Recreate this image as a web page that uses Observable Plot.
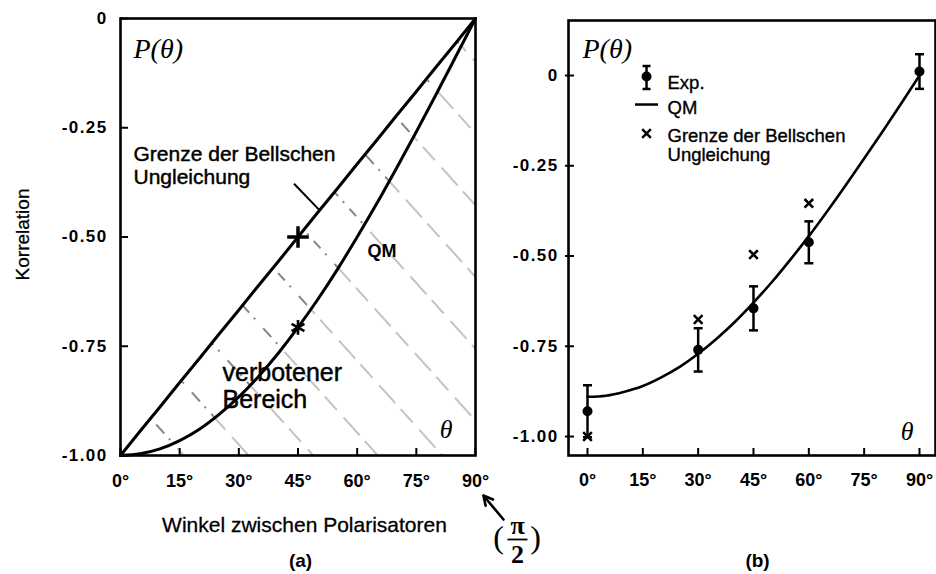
<!DOCTYPE html>
<html><head><meta charset="utf-8">
<script src="https://cdn.jsdelivr.net/npm/d3@7"></script>
<script src="https://cdn.jsdelivr.net/npm/@observablehq/plot@0.6"></script>
<style>
body{margin:0;background:#fff;}
#wrap{position:relative;width:936px;height:574px;overflow:hidden;background:#fff;}
.panel{position:absolute;top:0;}
[aria-label="y-axis tick label"] text{letter-spacing:1.4px;}
</style></head><body>
<svg width="0" height="0" style="position:absolute">
<defs>
<pattern id="hatchDark" patternUnits="userSpaceOnUse" width="48" height="60" patternTransform="rotate(-42)">
<line x1="24" y1="0" x2="24" y2="60" stroke="#444" stroke-width="1.3" stroke-dasharray="12 7 2 8 10 7 2 12"/>
</pattern>
<pattern id="hatchLight" patternUnits="userSpaceOnUse" width="48" height="60" patternTransform="rotate(-42)">
<line x1="24" y1="0" x2="24" y2="60" stroke="#aaa" stroke-width="1.4" stroke-dasharray="24 8 18 10"/>
</pattern>
</defs>
</svg>
<div id="wrap">
<div id="left" class="panel" style="left:0;width:560px"></div>
<div id="right" class="panel" style="left:480px;width:456px"></div>
</div>
<script>
// ---------- data ----------
const angles = [0,5,10,15,20,25,30,35,40,45,50,55,60,65,70,75,80,85,90];
const bellLimit = [-1,-0.944,-0.889,-0.833,-0.778,-0.722,-0.667,-0.611,-0.556,-0.5,-0.444,-0.389,-0.333,-0.278,-0.222,-0.167,-0.111,-0.056,0];
const qmIdeal = [-1,-0.996,-0.985,-0.966,-0.94,-0.906,-0.866,-0.819,-0.766,-0.707,-0.643,-0.574,-0.5,-0.423,-0.342,-0.259,-0.174,-0.087,0];
const qmMeasured = [-0.89,-0.887,-0.876,-0.86,-0.836,-0.807,-0.771,-0.729,-0.682,-0.629,-0.572,-0.51,-0.445,-0.376,-0.304,-0.23,-0.155,-0.078,0];
const markAngle = 45;
const markBell = -0.5;
const markQM = -0.707;
const expAngles = [0,30,45,60,90];
const expValues = [-0.93,-0.76,-0.645,-0.462,0.011];
const expErrors = [0.072,0.06,0.061,0.058,0.048];
const bellAngles = [0,30,45,60];
const bellValues = [-1.0,-0.676,-0.496,-0.354];
const xTicks = [0,15,30,45,60,75,90];
const xTickLabels = ["0°","15°","30°","45°","60°","75°","90°"];
const yTicks = [0,-0.25,-0.5,-0.75,-1];
const yTickLabels = ["0","-0.25","-0.50","-0.75","-1.00"];
const legendLabels = ["Exp.","QM","Grenze der Bellschen","Ungleichung"];

// ---------- helpers ----------
const SANS = "'Liberation Sans', Arial, Helvetica, sans-serif";
const SERIF = "'Liberation Serif', 'Times New Roman', serif";
const H = 574;
const curveRows = angles.map((a,i)=>({a, bell: bellLimit[i], qm: qmIdeal[i], qmm: qmMeasured[i]}));
const expRows = expAngles.map((a,i)=>({a, v: expValues[i], lo: expValues[i]-expErrors[i], hi: expValues[i]+expErrors[i]}));
const bellRows = bellAngles.map((a,i)=>({a, v: bellValues[i]}));
const heavy = {stroke:"black", strokeWidth:0.45};
const txt = (s, dx, dy, o={}) => Plot.text([s], {frameAnchor:"top-left", text:d=>d, dx, dy,
  textAnchor:"start", lineAnchor:"bottom", fontFamily:SANS, fill:"black", ...o});
const capSym = {draw(c){c.moveTo(-4.5,0);c.lineTo(4.5,0);}};
const legLine = {draw(c){c.moveTo(-11.5,0);c.lineTo(11.5,0);}};
const legErr = {draw(c){c.moveTo(0,-11);c.lineTo(0,12);c.moveTo(-4,-11);c.lineTo(4,-11);c.moveTo(-4,12);c.lineTo(4,12);}};
const fracBar = {draw(c){c.moveTo(-10,0);c.lineTo(10,0);}};
const fmtY = d => yTickLabels[yTicks.indexOf(d)];
const fmtX = d => xTickLabels[xTicks.indexOf(d)];
const styleStr = `background:transparent;font-family:${SANS};overflow:visible;max-width:none;`;

// ---------- left panel ----------
const L = {w:560, ml:120, mr:85, mt:18, mb:119};
const lpw = L.w-L.ml-L.mr, lph = H-L.mt-L.mb;
const piAnchor = [{a:90, v:-1}];
const left = Plot.plot({
  width:L.w, height:H, marginLeft:L.ml, marginRight:L.mr, marginTop:L.mt, marginBottom:L.mb,
  style: styleStr,
  x:{domain:[0,90], label:null}, y:{domain:[-1,0], label:null},
  marks:[
    Plot.areaY(curveRows, {x:"a", y1:-1, y2:"qm", fill:"url(#hatchLight)", curve:"natural"}),
    Plot.areaY(curveRows, {x:"a", y1:"qm", y2:"bell", fill:"url(#hatchDark)", curve:"natural"}),
    Plot.line(curveRows, {x:"a", y:"bell", stroke:"black", strokeWidth:3}),
    Plot.line(curveRows, {x:"a", y:"qm", stroke:"black", strokeWidth:3, curve:"natural"}),
    Plot.dot([{a:markAngle, v:markBell}], {x:"a", y:"v", symbol:"plus", r:7, stroke:"black", strokeWidth:3.5}),
    Plot.dot([{a:markAngle, v:markQM}], {x:"a", y:"v", symbol:"asterisk", r:7, stroke:"black", strokeWidth:2.6}),
    Plot.link([{x1:44, y1:-0.378, x2:50.5, y2:-0.439}], {x1:"x1", y1:"y1", x2:"x2", y2:"y2", stroke:"black", strokeWidth:2}),
    txt("P(θ)", 13, 39, {fontFamily:SERIF, fontStyle:"italic", fontSize:28}),
    txt("Grenze der Bellschen", 13, 142, {fontSize:21, ...heavy}),
    txt("Ungleichung", 13, 165, {fontSize:21, ...heavy}),
    txt("QM", 247, 238, {fontSize:18, fontWeight:"bold"}),
    txt("verbotener", 102, 362, {fontSize:25, ...heavy}),
    txt("Bereich", 102, 389, {fontSize:25, ...heavy}),
    txt("θ", 332, 419, {fontFamily:SERIF, fontStyle:"italic", fontSize:26, textAnchor:"end"}),
    txt("Korrelation", -98, 216, {fontSize:19, rotate:-90, textAnchor:"middle", lineAnchor:"middle", stroke:"black", strokeWidth:0.3}),
    txt("Winkel zwischen Polarisatoren", 184, 513, {fontSize:21, textAnchor:"middle", stroke:"black", strokeWidth:0.3}),
    txt("(a)", 180, 548, {fontSize:19, fontWeight:"bold", textAnchor:"middle"}),
    // (π/2) annotation
    Plot.arrow([{x1:97.1, y1:-1.1465, x2:92.0, y2:-1.0915}], {x1:"x1", y1:"y1", x2:"x2", y2:"y2", stroke:"black", strokeWidth:2.6, headLength:13, headAngle:55}),
    txt("(", 378, 529, {fontFamily:SERIF, fontSize:32, textAnchor:"middle"}),
    txt("π", 397, 515, {fontFamily:SERIF, fontSize:26, fontWeight:"bold", textAnchor:"middle"}),
    Plot.dot(piAnchor, {x:"a", y:"v", dx:42, dy:84, symbol:fracBar, fill:"none", stroke:"black", strokeWidth:1.8}),
    txt("2", 397, 544, {fontFamily:SERIF, fontSize:26, fontWeight:"bold", textAnchor:"middle"}),
    txt(")", 415, 529, {fontFamily:SERIF, fontSize:32, textAnchor:"middle"}),
    // ticks & axes
    Plot.tickX(xTicks, {x:d=>d, insetTop:lph-7, stroke:"black", strokeWidth:2}),
    Plot.tickY(yTicks, {y:d=>d, insetRight:lpw-8, stroke:"black", strokeWidth:2}),
    Plot.axisX({ticks:xTicks, tickFormat:fmtX, tickSize:0, tickPadding:19, label:null, fontSize:18, fontWeight:"bold", fontFamily:SANS}),
    Plot.axisY({ticks:yTicks, tickFormat:fmtY, tickSize:0, tickPadding:13, label:null, fontSize:17, fontWeight:"bold", fontFamily:SANS}),
    Plot.frame({stroke:"black", strokeWidth:2.6})
  ]
});
document.getElementById("left").appendChild(left);

// ---------- right panel ----------
const R = {w:456, ml:88, mr:1, mt:20, mb:119};
const rpw = R.w-R.ml-R.mr, rph = H-R.mt-R.mb;
const legAnchor = [{a:16, v:0}];
const legDy = [13, 38, 66, 85];
const legText = legendLabels.map((s,i) => Plot.text(legAnchor, {x:"a", y:"v", text:()=>s, dx:21, dy:legDy[i],
  textAnchor:"start", lineAnchor:"bottom", fontSize:18.5, fontFamily:SANS, fill:"black", stroke:"black", strokeWidth:0.35}));
const right = Plot.plot({
  width:R.w, height:H, marginLeft:R.ml, marginRight:R.mr, marginTop:R.mt, marginBottom:R.mb,
  style: styleStr,
  x:{domain:[-5.15,94.34], label:null}, y:{domain:[-1.0526,0.1524], label:null},
  marks:[
    Plot.line(curveRows, {x:"a", y:"qmm", stroke:"black", strokeWidth:2.6, curve:"natural"}),
    Plot.ruleX(expRows, {x:"a", y1:"lo", y2:"hi", stroke:"black", strokeWidth:2.5}),
    Plot.dot(expRows, {x:"a", y:"hi", symbol:capSym, fill:"none", stroke:"black", strokeWidth:2.5}),
    Plot.dot(expRows, {x:"a", y:"lo", symbol:capSym, fill:"none", stroke:"black", strokeWidth:2.5}),
    Plot.dot(expRows, {x:"a", y:"v", r:5, fill:"black"}),
    Plot.dot(bellRows, {x:"a", y:"v", symbol:"times", r:4, stroke:"black", strokeWidth:2.5}),
    // legend
    Plot.dot(legAnchor, {x:"a", y:"v", dy:1.5, symbol:legErr, fill:"none", stroke:"black", strokeWidth:2.5}),
    Plot.dot(legAnchor, {x:"a", y:"v", dy:1, r:5, fill:"black"}),
    Plot.dot(legAnchor, {x:"a", y:"v", dy:29, symbol:legLine, fill:"none", stroke:"black", strokeWidth:2.5}),
    Plot.dot(legAnchor, {x:"a", y:"v", dy:58, symbol:"times", r:4, stroke:"black", strokeWidth:2.5}),
    ...legText,
    txt("P(θ)", 14, 37, {fontFamily:SERIF, fontStyle:"italic", fontSize:28}),
    txt("θ", 345, 419, {fontFamily:SERIF, fontStyle:"italic", fontSize:26, textAnchor:"end"}),
    txt("(b)", 189, 546, {fontSize:19, fontWeight:"bold", textAnchor:"middle"}),
    // ticks & axes
    Plot.tickX(xTicks, {x:d=>d, insetTop:rph-7, stroke:"black", strokeWidth:2}),
    Plot.tickY(yTicks, {y:d=>d, insetRight:rpw-9, dx:-3, stroke:"black", strokeWidth:2}),
    Plot.axisX({ticks:xTicks, tickFormat:fmtX, tickSize:0, tickPadding:18, label:null, fontSize:18, fontWeight:"bold", fontFamily:SANS}),
    Plot.axisY({ticks:yTicks, tickFormat:fmtY, tickSize:0, tickPadding:10, label:null, fontSize:17, fontWeight:"bold", fontFamily:SANS}),
    Plot.frame({stroke:"black", strokeWidth:2.6})
  ]
});
document.getElementById("right").appendChild(right);
</script>
</body></html>
